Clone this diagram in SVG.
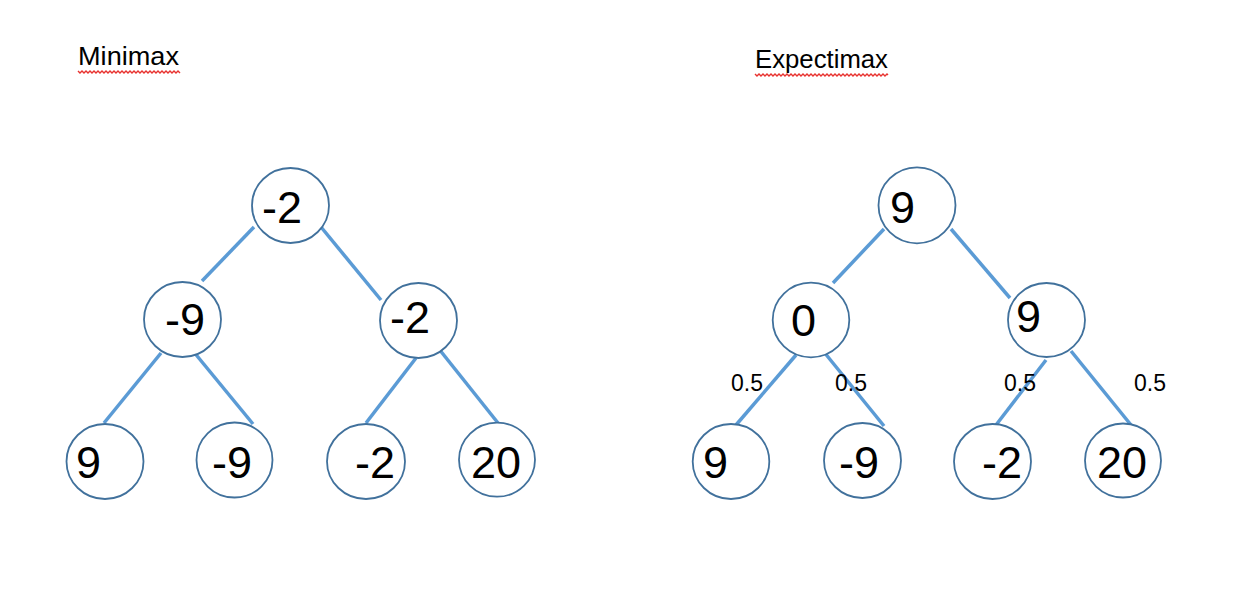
<svg xmlns="http://www.w3.org/2000/svg" width="1238" height="610" viewBox="0 0 1238 610">
<style>
.n{fill:#fff;stroke:#41719c;stroke-width:1.8}
.v{font-family:"Liberation Sans",Arial,sans-serif;font-size:45px;fill:#000}
.p{font-family:"Liberation Sans",Arial,sans-serif;font-size:23px;fill:#000}
.t{font-family:"Liberation Sans",Arial,sans-serif;font-size:26px;fill:#000}
.e{stroke:#5b9bd5;stroke-width:3.5;fill:none}
.sq{stroke:#e8322f;stroke-width:1.4;fill:none}
</style>
<rect width="1238" height="610" fill="#fff"/>
<g id="titles">
<text class="t" x="78" y="65" textLength="101" lengthAdjust="spacingAndGlyphs">Minimax</text>
<polyline class="sq" points="78,71 80,73 82,71 84,73 86,71 88,73 90,71 92,73 94,71 96,73 98,71 100,73 102,71 104,73 106,71 108,73 110,71 112,73 114,71 116,73 118,71 120,73 122,71 124,73 126,71 128,73 130,71 132,73 134,71 136,73 138,71 140,73 142,71 144,73 146,71 148,73 150,71 152,73 154,71 156,73 158,71 160,73 162,71 164,73 166,71 168,73 170,71 172,73 174,71 176,73 178,71 180,73"/>
<text class="t" x="755" y="68" textLength="133" lengthAdjust="spacingAndGlyphs">Expectimax</text>
<polyline class="sq" points="755,74 757,76 759,74 761,76 763,74 765,76 767,74 769,76 771,74 773,76 775,74 777,76 779,74 781,76 783,74 785,76 787,74 789,76 791,74 793,76 795,74 797,76 799,74 801,76 803,74 805,76 807,74 809,76 811,74 813,76 815,74 817,76 819,74 821,76 823,74 825,76 827,74 829,76 831,74 833,76 835,74 837,76 839,74 841,76 843,74 845,76 847,74 849,76 851,74 853,76 855,74 857,76 859,74 861,76 863,74 865,76 867,74 869,76 871,74 873,76 875,74 877,76 879,74 881,76 883,74 885,76 887,74 888,75"/>
</g>
<g id="connectors">
<line class="e" x1="254" y1="227" x2="202" y2="281"/>
<line class="e" x1="321" y1="227" x2="381" y2="300"/>
<line class="e" x1="161" y1="353" x2="104" y2="423"/>
<line class="e" x1="193" y1="351" x2="253" y2="424"/>
<line class="e" x1="416" y1="358" x2="366" y2="423"/>
<line class="e" x1="439" y1="349" x2="498" y2="423"/>
<line class="e" x1="884" y1="229" x2="833" y2="283"/>
<line class="e" x1="951" y1="229" x2="1010" y2="298"/>
<line class="e" x1="796" y1="355" x2="736" y2="425"/>
<line class="e" x1="824" y1="352" x2="884" y2="426"/>
<line class="e" x1="1046" y1="360" x2="996" y2="425"/>
<line class="e" x1="1071" y1="351" x2="1131" y2="425"/>
</g>
<g id="m-root"><ellipse class="n" cx="290.5" cy="205.5" rx="38.5" ry="37.5"/><text class="v" x="262" y="223">-2</text></g>
<g id="m-l"><ellipse class="n" cx="182.5" cy="319.5" rx="38.5" ry="37.5"/><text class="v" x="165" y="335">-9</text></g>
<g id="m-r"><ellipse class="n" cx="418.5" cy="320.5" rx="38.5" ry="37.5"/><text class="v" x="390" y="333">-2</text></g>
<g id="m-ll"><ellipse class="n" cx="105" cy="461.5" rx="38.5" ry="37.5"/><text class="v" x="76" y="478">9</text></g>
<g id="m-lr"><ellipse class="n" cx="234.5" cy="460" rx="38" ry="37.5"/><text class="v" x="212" y="478">-9</text></g>
<g id="m-rl"><ellipse class="n" cx="366" cy="461.5" rx="39" ry="37.5"/><text class="v" x="355" y="478">-2</text></g>
<g id="m-rr"><ellipse class="n" cx="497" cy="459.7" rx="38" ry="37"/><text class="v" x="471" y="478">20</text></g>
<g id="e-root"><ellipse class="n" cx="917" cy="205.3" rx="38.5" ry="38"/><text class="v" x="890" y="223">9</text></g>
<g id="e-l"><ellipse class="n" cx="811" cy="320" rx="38.3" ry="37.3"/><text class="v" x="791" y="336">0</text></g>
<g id="e-r"><ellipse class="n" cx="1046.5" cy="320" rx="38.5" ry="37"/><text class="v" x="1016" y="332">9</text></g>
<g id="e-ll"><ellipse class="n" cx="731" cy="461.5" rx="38.3" ry="37.5"/><text class="v" x="703" y="478">9</text></g>
<g id="e-lr"><ellipse class="n" cx="862.5" cy="460.5" rx="38.5" ry="37.5"/><text class="v" x="839" y="478">-9</text></g>
<g id="e-rl"><ellipse class="n" cx="992.5" cy="461.5" rx="38.5" ry="37.5"/><text class="v" x="982" y="478">-2</text></g>
<g id="e-rr"><ellipse class="n" cx="1123" cy="460.5" rx="38" ry="37"/><text class="v" x="1097" y="478">20</text></g>
<g id="probs">
<text class="p" x="731" y="391">0.5</text>
<text class="p" x="835" y="391">0.5</text>
<text class="p" x="1004" y="391">0.5</text>
<text class="p" x="1134" y="391">0.5</text>
</g>
</svg>
